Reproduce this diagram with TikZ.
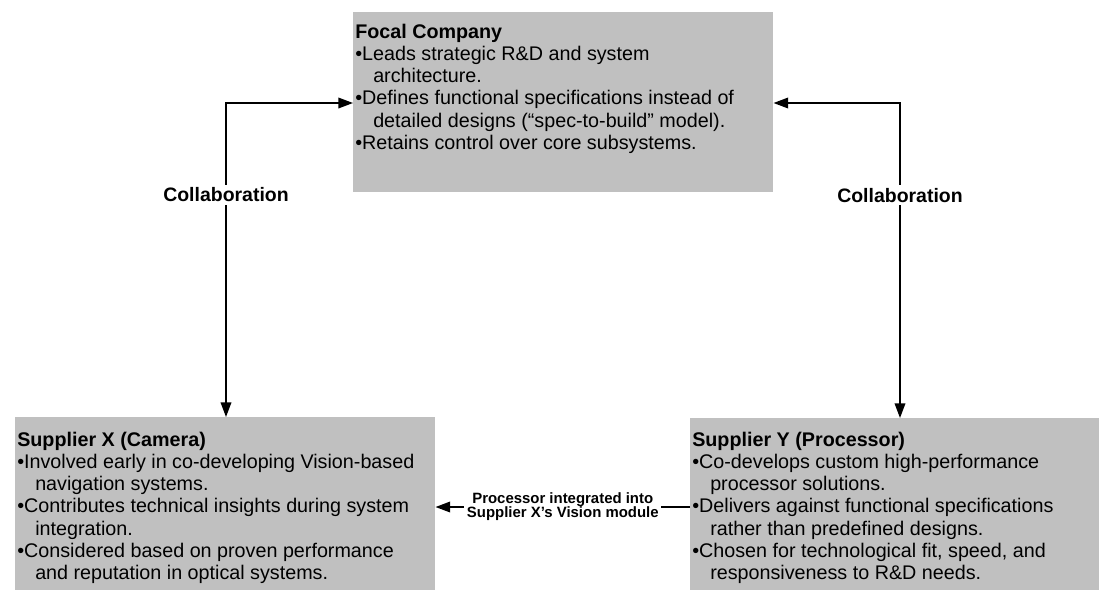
\documentclass[tikz,border=0pt]{standalone}
\usepackage{fontspec}
\setmainfont{Liberation Sans}
\usetikzlibrary{positioning, arrows.meta, calc}
\definecolor{boxgray}{RGB}{192,192,192}
\tikzset{>={Triangle[length=11pt, width=8pt]}, x=0.75pt, y=-0.75pt}

\newcommand{\bul}{\textbullet}
\newcommand{\nxt}{\\\hspace*{13.5pt}}

\begin{document}
\begin{tikzpicture}[
    box/.style = {fill=boxgray, anchor=north west, inner sep=0pt},
    boxtext/.style = {anchor=north west, inner sep=0pt, align=left,
        font=\fontsize{14.8}{16.6}\selectfont},
    link/.style = {line width=1.1pt},
    collab/.style = {fill=white, inner sep=2pt,
        font=\bfseries\fontsize{14.6}{16}\selectfont},
    flow/.style = {fill=white, inner sep=2pt, align=center,
        font=\bfseries\fontsize{11.2}{10.6}\selectfont}
]
    \useasboundingbox (0,0) rectangle (1099,590);

    % the three partners
    \node[box, minimum width=315pt, minimum height=135pt] (focal) at (353,12) {};
    \node[box, minimum width=315pt, minimum height=129.75pt] (supx) at (15,417) {};
    \node[box, minimum width=306.75pt, minimum height=129pt] (supy) at (690,418) {};

    \node[boxtext] (focaltxt) at ($(focal.north west)+(2,12)$) {%
        {\bfseries Focal Company}\\
        \bul Leads strategic R\&D and system\nxt architecture.\\
        \bul Defines functional specifications instead of\nxt detailed designs (“spec-to-build” model).\\
        \bul Retains control over core subsystems.};
    \node[boxtext] (supxtxt) at ($(supx.north west)+(2,15)$) {%
        {\bfseries Supplier X (Camera)}\\
        \bul Involved early in co-developing Vision-based\nxt navigation systems.\\
        \bul Contributes technical insights during system\nxt integration.\\
        \bul Considered based on proven performance\nxt and reputation in optical systems.};
    \node[boxtext] (supytxt) at ($(supy.north west)+(2,14)$) {%
        {\bfseries Supplier Y (Processor)}\\
        \bul Co-develops custom high-performance\nxt processor solutions.\\
        \bul Delivers against functional specifications\nxt rather than predefined designs.\\
        \bul Chosen for technological fit, speed, and\nxt responsiveness to R\&D needs.};

    % collaboration links
    \coordinate (lbend) at (226,103);
    \coordinate (rbend) at (900,103);
    \draw[link, <->] (focal.west |- lbend) -- (lbend)
        -- node[collab, pos=0.293] {Collaboration} (lbend |- supx.north);
    \draw[link, <->] (focal.east |- rbend) -- (rbend)
        -- node[collab, pos=0.293] {Collaboration} (rbend |- supy.north);

    % processor goes into the camera module
    \coordinate (flowy) at (563,507);
    \draw[link, ->] (flowy -| supy.west)
        -- node[flow] {Processor integrated into\\Supplier X’s Vision module} (flowy -| supx.east);
\end{tikzpicture}
\end{document}
